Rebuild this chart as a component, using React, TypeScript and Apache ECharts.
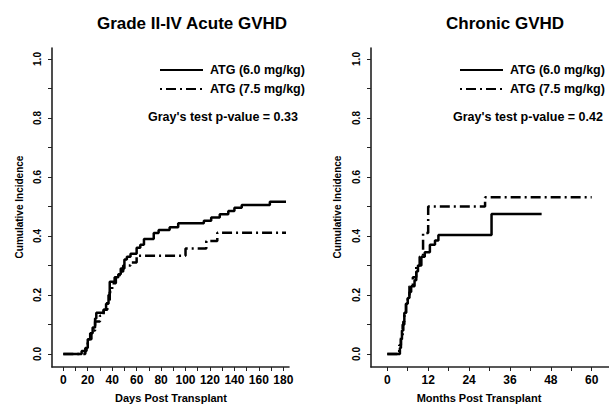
import React, { useEffect, useRef } from "react";
import * as echarts from "echarts";

// Grade II-IV acute GVHD (days post transplant)
const acute60Days = [0, 15, 19, 20, 22, 24, 26, 27, 33, 35, 37, 38, 42, 45, 47, 50, 52, 55, 60, 63, 66, 74, 78, 87, 94, 115, 121, 128, 135, 140, 146, 169, 185];
const acute60CI = [0, 0.01, 0.02, 0.05, 0.07, 0.09, 0.12, 0.14, 0.15, 0.17, 0.2, 0.245, 0.26, 0.27, 0.29, 0.32, 0.33, 0.34, 0.36, 0.37, 0.39, 0.41, 0.42, 0.43, 0.443, 0.452, 0.463, 0.474, 0.485, 0.496, 0.505, 0.516, 0.516];
const acute75Days = [0, 17, 18, 20, 23, 26, 30, 33, 36, 38, 40, 43, 46, 49, 55, 60, 100, 117, 126, 183];
const acute75CI = [0, 0, 0.02, 0.05, 0.08, 0.11, 0.13, 0.15, 0.18, 0.21, 0.24, 0.26, 0.28, 0.3, 0.31, 0.333, 0.358, 0.383, 0.411, 0.411];

// Chronic GVHD (months post transplant)
const chronic60Months = [0, 3.7, 4, 4.3, 4.7, 5, 5.5, 6, 6.5, 7, 8, 8.5, 9, 10, 11, 12.5, 14, 15, 30.6, 45.3];
const chronic60CI = [0, 0.02, 0.05, 0.08, 0.11, 0.14, 0.17, 0.19, 0.21, 0.23, 0.25, 0.28, 0.3, 0.33, 0.345, 0.37, 0.385, 0.403, 0.475, 0.475];
const chronic75Months = [0, 3.5, 4, 4.5, 5, 5.5, 6, 6.5, 7.5, 8.5, 9.5, 10.5, 12, 28.7, 60];
const chronic75CI = [0, 0.03, 0.06, 0.1, 0.14, 0.17, 0.2, 0.23, 0.26, 0.3, 0.33, 0.41, 0.5, 0.531, 0.531];

const titles = ["Grade II-IV Acute GVHD", "Chronic GVHD"];
const legendNames = ["ATG (6.0 mg/kg)", "ATG (7.5 mg/kg)"];
const pValues = ["Gray's test p-value = 0.33", "Gray's test p-value = 0.42"];
const xNames = ["Days Post Transplant", "Months Post Transplant"];
const yName = "Cumulative Incidence";

const FONT = 'Arial, "Liberation Sans", Helvetica, sans-serif';
const DASHDOT = [10, 4, 2, 4];

const zip = (xs: number[], ys: number[]) => xs.map((x, i) => [x, ys[i]]);

export default function App() {
  const ref = useRef<HTMLDivElement>(null);
  useEffect(() => {
    if (!ref.current) return;
    const chart = echarts.init(ref.current, null, { renderer: "svg" });

    const boxAxisX = (gridIndex: number) => ({
      type: "value", gridIndex, min: 0, max: 1,
      axisLine: { show: true, onZero: false, lineStyle: { color: "#222", width: 1.6 } },
      axisTick: { show: false }, axisLabel: { show: false }, splitLine: { show: false },
    });
    const boxAxisY = (gridIndex: number) => ({
      type: "value", gridIndex, min: 0, max: 1,
      axisLine: { show: true, onZero: false, lineStyle: { color: "#222", width: 1.6 } },
      axisTick: { show: false }, axisLabel: { show: false }, splitLine: { show: false },
    });
    const dataX = (gridIndex: number, max: number, interval: number, labelEvery: number) => ({
      type: "value", gridIndex, min: 0, max, interval, offset: 13,
      axisLine: { show: false, onZero: false },
      axisTick: { show: true, length: 4, lineStyle: { color: "#222", width: 1 } },
      axisLabel: {
        show: true, margin: 7, color: "#000", fontFamily: FONT, fontWeight: "bold", fontSize: 12,
        formatter: (v: number) => (Math.round(v) % labelEvery === 0 ? String(Math.round(v)) : ""),
      },
      splitLine: { show: false },
    });
    const dataY = (gridIndex: number, offset: number) => ({
      type: "value", gridIndex, min: 0, max: 1, interval: 0.1, offset,
      axisLine: { show: false, onZero: false },
      axisTick: { show: true, length: 4, lineStyle: { color: "#222", width: 1 } },
      axisLabel: {
        show: true, rotate: 90, margin: 10, color: "#000", fontFamily: FONT, fontWeight: "bold", fontSize: 10,
        formatter: (v: number) => {
          const k = Math.round(v * 10);
          return k % 2 === 0 ? (k / 10).toFixed(1) : "";
        },
      },
      splitLine: { show: false },
    });

    const lineSeries = (xi: number, data: number[][], dashed: boolean) => ({
      type: "line", xAxisIndex: xi, yAxisIndex: xi, data, step: "end", symbol: "none", clip: false,
      lineStyle: { color: "#000", width: 2.5, type: dashed ? DASHDOT : "solid" },
    });

    const panelGraphics = (p: number, titleX: number, legX: number, pX: number, yNameX: number, xNameX: number) => [
      { type: "text", x: titleX, y: 23, style: { text: titles[p], fill: "#000", font: `bold 17px ${FONT}`, textAlign: "center", textVerticalAlign: "middle" } },
      { type: "line", shape: { x1: legX, y1: 70, x2: legX + 43, y2: 70 }, style: { stroke: "#000", lineWidth: 2 } },
      { type: "line", shape: { x1: legX, y1: 89, x2: legX + 43, y2: 89 }, style: { stroke: "#000", lineWidth: 2, lineDash: DASHDOT, lineDashOffset: 14 } },
      { type: "text", x: legX + 50, y: 70, style: { text: legendNames[0], fill: "#000", font: `bold 12.5px ${FONT}`, textAlign: "left", textVerticalAlign: "middle" } },
      { type: "text", x: legX + 50, y: 89, style: { text: legendNames[1], fill: "#000", font: `bold 12.5px ${FONT}`, textAlign: "left", textVerticalAlign: "middle" } },
      { type: "text", x: pX, y: 117, style: { text: pValues[p], fill: "#000", font: `bold 12.5px ${FONT}`, textAlign: "left", textVerticalAlign: "middle" } },
      { type: "text", x: yNameX, y: 207, rotation: Math.PI / 2, style: { text: yName, fill: "#000", font: `bold 10px ${FONT}`, textAlign: "center", textVerticalAlign: "middle" } },
      { type: "text", x: xNameX, y: 398, style: { text: xNames[p], fill: "#000", font: `bold 11px ${FONT}`, textAlign: "center", textVerticalAlign: "middle" } },
    ];

    chart.setOption({
      animation: false,
      backgroundColor: "#fff",
      grid: [
        { left: 52, top: 48, width: 237, height: 319 },
        { left: 371, top: 48, width: 238, height: 319 },
        { left: 63.3, top: 59, width: 220, height: 295 },
        { left: 387.3, top: 59, width: 204.4, height: 295 },
      ],
      xAxis: [boxAxisX(0), boxAxisX(1), dataX(2, 180, 10, 20), dataX(3, 60, 6, 12)],
      yAxis: [boxAxisY(0), boxAxisY(1), dataY(2, 11.3), dataY(3, 16.3)],
      series: [
        lineSeries(2, zip(acute60Days, acute60CI), false),
        lineSeries(2, zip(acute75Days, acute75CI), true),
        lineSeries(3, zip(chronic60Months, chronic60CI), false),
        lineSeries(3, zip(chronic75Months, chronic75CI), true),
      ],
      graphic: [
        ...panelGraphics(0, 192, 160, 148, 19, 171),
        ...panelGraphics(1, 505, 460, 453, 337, 479),
      ],
    });
    return () => chart.dispose();
  }, []);
  return <div ref={ref} style={{ position: "fixed", left: 0, top: 0, width: 609, height: 406 }} />;
}
